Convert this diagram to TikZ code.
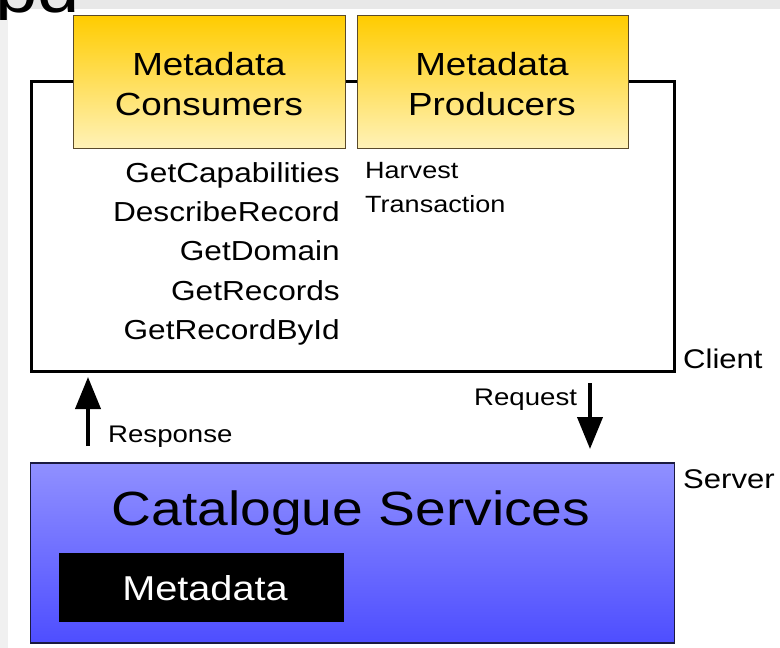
\documentclass[tikz,border=0pt]{standalone}
\usepackage{graphicx}
\usepackage{fontspec}
\setmainfont{Liberation Sans}[FakeStretch=1.15]
\usetikzlibrary{arrows.meta}
\definecolor{ytop}{HTML}{FFCC00}
\definecolor{ybot}{HTML}{FFF2B8}
\definecolor{yline}{HTML}{5A4A2A}
\definecolor{btop}{HTML}{9090FF}
\definecolor{bbot}{HTML}{4E4EFF}
\definecolor{bline}{HTML}{1A1A40}
\definecolor{frame}{HTML}{E8E8E8}
\definecolor{lframe}{HTML}{F0F0F0}
\tikzset{
  yellowbox/.style={draw=yline, line width=1.2pt, top color=ytop, bottom color=ybot},
  bluebox/.style={draw=bline, line width=1.5pt, top color=btop, bottom color=bbot},
  clientbox/.style={draw=black, line width=3pt, fill=white},
  method/.style={anchor=base east, inner sep=0pt, font=\fontsize{27.5}{33}\selectfont},
  prod/.style={anchor=base west, inner sep=0pt, font=\fontsize{23.5}{28}\selectfont},
  lbl/.style={anchor=base west, inner sep=0pt, font=\fontsize{24}{28}\selectfont},
  side/.style={anchor=base west, inner sep=0pt, font=\fontsize{27}{32}\selectfont},
  boxtitle/.style={align=center, inner sep=0pt, font=\fontsize{32}{40}\selectfont},
  bigarrow/.style={line width=4pt, -{Triangle[width=25pt,length=32pt]}},
}
\begin{document}
\begin{tikzpicture}[x=1pt,y=-1pt]
\clip (0,0) rectangle (780,648);
% frame strips and background
\fill[frame] (0,0) rectangle (780,9);
\fill[lframe] (0,9) rectangle (8,648);
\fill[white] (8,9) rectangle (780,648);
\node[anchor=base west, inner sep=0pt, font=\fontsize{66}{66}\selectfont] (title) at (-5,12) {pd};
% the diagram's white area covers the lower part of the title
\fill[lframe] (0,20) rectangle (8,648);
\fill[white] (8,13) rectangle (780,648);
% client box
\node[clientbox, minimum width=643pt, minimum height=290pt, anchor=north west, inner sep=0pt] (client) at (30,80) {};
% producer / consumer boxes
\node[yellowbox, minimum width=272pt, minimum height=133pt, anchor=north west, inner sep=0pt] (cons) at (73,15) {};
\node[yellowbox, minimum width=271pt, minimum height=133pt, anchor=north west, inner sep=0pt] (prodbox) at (357,15) {};
\node[boxtitle, anchor=base] (constext) at (209,115) {Metadata\\Consumers};
\node[boxtitle, anchor=base] (prodtext) at (492,115) {Metadata\\Producers};
% methods
\node[method] (m1) at (340,182) {GetCapabilities};
\node[method] (m2) at (340,221) {DescribeRecord};
\node[method] (m3) at (340,260) {GetDomain};
\node[method] (m4) at (340,300) {GetRecords};
\node[method] (m5) at (340,339) {GetRecordById};
\node[prod] (p1) at (365,178) {Harvest};
\node[prod] (p2) at (365,212) {Transaction};
% labels
\node[side] (clientlbl) at (683,368) {Client};
\node[side] (serverlbl) at (683,488) {Server};
% server box
\node[bluebox, minimum width=644pt, minimum height=180pt, anchor=north west, inner sep=0pt] (server) at (29.5,462) {};
\node[anchor=base, inner sep=0pt, font=\fontsize{48}{48}\selectfont] (cat) at (351,525) {Catalogue Services};
\node[fill=black, minimum width=285pt, minimum height=69pt, anchor=north west, inner sep=0pt] (meta) at (59,553) {};
\node[anchor=base, inner sep=0pt, text=white, font=\fontsize{34.5}{34.5}\selectfont] (metatext) at (205,600) {Metadata};
% arrows
\coordinate (rtail) at (88,446);
\coordinate (rtip) at (88,377);
\draw[bigarrow] (rtail) -- (rtip);
\node[lbl] (resp) at (108,442) {Response};
\coordinate (qtail) at (590,383);
\coordinate (qtip) at (590,449);
\draw[bigarrow] (qtail) -- (qtip);
\node[lbl] (req) at (474,405) {Request};
\end{tikzpicture}
\end{document}
